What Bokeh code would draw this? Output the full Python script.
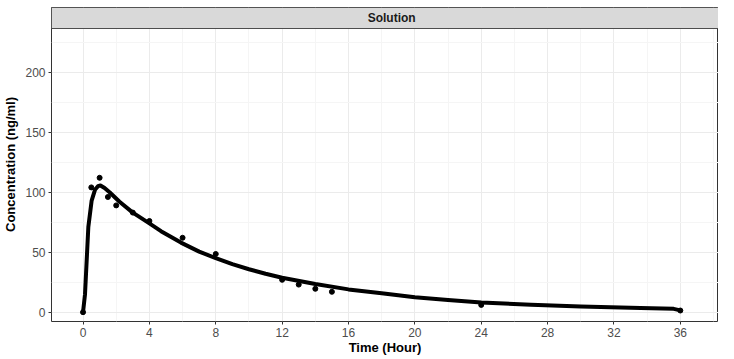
from bokeh.plotting import figure
from bokeh.models import FixedTicker, BoxAnnotation, Label, Range1d
from bokeh.embed import file_html
from bokeh.resources import INLINE

# observed data
obs_time = [0, 0.5, 1, 1.5, 2, 3, 4, 6, 8, 12, 13, 14, 15, 24, 36]
obs_conc = [0, 104, 112, 96, 89, 83, 76, 62, 48.5, 27, 23, 19.5, 17, 6.1, 1.4]

# fitted curve
fit_time = [0, 0.12, 0.32, 0.52, 0.72, 0.9, 1.05, 1.3, 1.6, 2.2, 3, 4, 4.7, 5.9,
            7, 8, 9, 10, 11, 12, 14, 16, 18, 20, 22, 24, 27, 30, 33.6, 35.6, 36]
fit_conc = [0, 15, 71, 93, 102, 105, 105.6, 103.5, 100, 92, 83, 74, 67.5, 58,
            50.5, 45, 40, 35.8, 32, 28.7, 23.5, 19, 15.8, 12.5, 10.2, 8, 6.3, 4.8, 3.4, 2.8, 1.5]

x_ticks = [0, 4, 8, 12, 16, 20, 24, 28, 32, 36]
x_minor = [-2, 2, 6, 10, 14, 18, 22, 26, 30, 34, 38]
y_ticks = [0, 50, 100, 150, 200]
y_minor = [-25, 25, 75, 125, 175, 225]

strip_title = "Solution"
x_title = "Time (Hour)"
y_title = "Concentration (ng/ml)"

FONT = "Liberation Sans"

x_lo, x_hi = -1.9, 38.3
y_lo, y_hi = -7.75, 253.9
strip_bottom = 236.4

p = figure(width=718, height=357, output_backend="svg", toolbar_location=None,
           x_range=Range1d(x_lo, x_hi), y_range=Range1d(y_lo, y_hi),
           min_border_left=44, min_border_right=0, min_border_top=7,
           min_border_bottom=0)

p.background_fill_color = "white"
p.border_fill_color = "white"
p.outline_line_color = "#333333"
p.outline_line_width = 1

for ax in (p.xaxis[0], p.yaxis[0]):
    ax.axis_line_color = None
    ax.major_tick_line_color = "#333333"
    ax.major_tick_in = 0
    ax.major_tick_out = 3
    ax.minor_tick_line_color = None
    ax.major_label_text_font = FONT
    ax.major_label_text_font_size = "12px"
    ax.major_label_text_color = "#4D4D4D"
    ax.axis_label_text_font = FONT
    ax.axis_label_text_font_size = "13px"
    ax.axis_label_text_font_style = "bold"
    ax.axis_label_text_color = "#000000"
    ax.major_label_standoff = 2

p.xaxis[0].ticker = FixedTicker(ticks=x_ticks, minor_ticks=x_minor)
p.yaxis[0].ticker = FixedTicker(ticks=y_ticks, minor_ticks=y_minor)
p.xaxis[0].axis_label = x_title
p.yaxis[0].axis_label = y_title
p.xaxis[0].axis_label_standoff = 0
p.yaxis[0].axis_label_standoff = 4

p.xgrid[0].grid_line_color = "#EBEBEB"
p.ygrid[0].grid_line_color = "#EBEBEB"
p.xgrid[0].minor_grid_line_color = "#F5F5F5"
p.ygrid[0].minor_grid_line_color = "#F5F5F5"

p.line(fit_time, fit_conc, line_color="black", line_width=4, line_join="round", line_cap="round")
p.scatter(obs_time, obs_conc, size=5, color="black")

strip = BoxAnnotation(bottom=strip_bottom, fill_color="#D9D9D9", fill_alpha=1,
                      line_color="#4D4D4D", line_width=1, line_alpha=1)
p.add_layout(strip)
p.add_layout(Label(x=(x_lo + x_hi) / 2 + 0.4, y=(strip_bottom + y_hi) / 2, text=strip_title,
                   text_align="center", text_baseline="middle",
                   text_font=FONT, text_font_size="12px", text_font_style="bold",
                   text_color="#1A1A1A"))

open("out.html", "w").write(file_html(p, INLINE))
